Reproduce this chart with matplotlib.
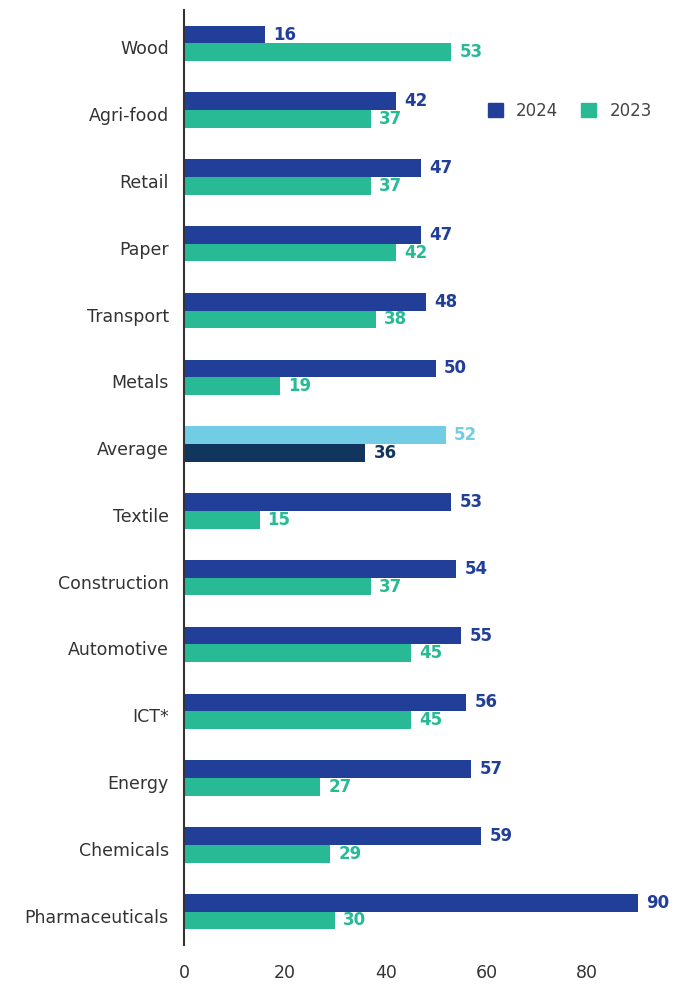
import numpy as np
import matplotlib
matplotlib.use("Agg")
import matplotlib.pyplot as plt
from matplotlib.patches import Patch

plt.rcParams['font.family'] = ['DejaVu Sans']

# data, top to bottom as in the chart
sectors = ["Wood", "Agri-food", "Retail", "Paper", "Transport", "Metals", "Average",
           "Textile", "Construction", "Automotive", "ICT*", "Energy", "Chemicals",
           "Pharmaceuticals"]
vals_2024 = [16, 42, 47, 47, 48, 50, 52, 53, 54, 55, 56, 57, 59, 90]
vals_2023 = [53, 37, 37, 42, 38, 19, 36, 15, 37, 45, 45, 27, 29, 30]

c24 = "#213F99"
c23 = "#27BA94"
c_avg24 = "#72CDE4"
c_avg23 = "#12355E"

fig = plt.figure(figsize=(6.75, 9.85), dpi=100)
ax = fig.add_axes([184 / 675, 40 / 985, 489 / 675, 935 / 985])

n = len(sectors)
y = np.arange(n)[::-1]
h = 0.265

cols24 = [c_avg24 if s == "Average" else c24 for s in sectors]
cols23 = [c_avg23 if s == "Average" else c23 for s in sectors]

ax.barh(y + h / 2, vals_2024, height=h, color=cols24, label="2024")
ax.barh(y - h / 2, vals_2023, height=h, color=cols23, label="2023")

for yi, v, c in zip(y + h / 2, vals_2024, cols24):
    ax.text(v + 1.6, yi, str(v), color=c, fontsize=12, fontweight="bold", va="center", ha="left")
for yi, v, c in zip(y - h / 2, vals_2023, cols23):
    ax.text(v + 1.6, yi, str(v), color=c, fontsize=12, fontweight="bold", va="center", ha="left")

ax.set_xlim(0, 97)
ax.set_ylim(-0.5, n - 0.5)
ax.set_yticks(y - 0.06)
ax.set_yticklabels(sectors, fontsize=12.5, color="#333333")
ax.set_xticks([0, 20, 40, 60, 80])
ax.tick_params(axis="x", length=0, labelsize=12.5, labelcolor="#333333", pad=14)
ax.tick_params(axis="y", length=0, pad=11)

for s in ["top", "right", "bottom"]:
    ax.spines[s].set_visible(False)
ax.spines["left"].set_color("#333333")
ax.spines["left"].set_linewidth(1.5)

handles = [Patch(color=c24, label="2024"), Patch(color=c23, label="2023")]
ax.legend(handles=handles, loc="center left", bbox_to_anchor=(0.59, 0.892), ncol=2,
          frameon=False, handlelength=0.9, handleheight=0.9, handletextpad=0.8,
          columnspacing=1.4, fontsize=12, labelcolor="#444444")

fig.savefig("out.png", dpi=100)
